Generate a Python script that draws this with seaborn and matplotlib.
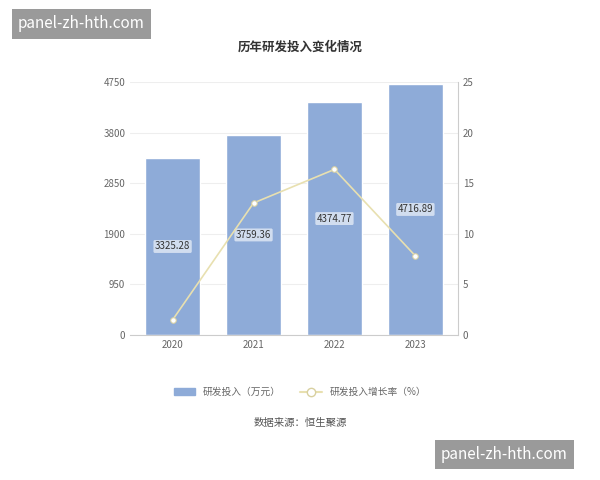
import numpy as np
import pandas as pd
import matplotlib.pyplot as plt
import seaborn as sns

years = ['2020', '2021', '2022', '2023']
rd_spend = [3325.28, 3759.36, 4374.77, 4716.89]
growth = [1.5, 13.05, 16.37, 7.82]

sns.set_style('white')
plt.rcParams['font.family'] = ['Noto Sans CJK SC', 'DejaVu Sans']

df = pd.DataFrame({'year': years, 'spend': rd_spend, 'growth': growth})

fig = plt.figure(figsize=(6, 4.8), dpi=100)
ax = fig.add_axes([0.217, 0.302, 0.546, 0.527])
sns.barplot(data=df, x='year', y='spend', color='#8eabd8', width=0.68, ax=ax, saturation=1)
ax.set_ylim(0, 4750)
ax.set_yticks(np.arange(0, 4751, 950))
ax.yaxis.grid(True, color='#eeeeee', lw=0.8)
ax.set_axisbelow(True)
ax.set_xlabel('')
ax.set_ylabel('')
ax.tick_params(labelsize=7, colors='#666666', length=0)
for s in ['top', 'right', 'left']:
    ax.spines[s].set_visible(False)
ax.spines['bottom'].set_color('#cccccc')
for i, v in enumerate(rd_spend):
    ax.text(i, v / 2, f'{v:.2f}', ha='center', va='center', fontsize=7, color='#333333',
            bbox=dict(boxstyle='round,pad=0.15', fc='white', ec='none', alpha=0.6))

ax2 = ax.twinx()
sns.lineplot(x=np.arange(len(years)), y=growth, color='#e8e0b0', marker='o', markersize=4,
             markerfacecolor='white', markeredgecolor='#d8d0a0', lw=1.2, ax=ax2)
ax2.set_ylim(0, 25)
ax2.set_yticks(range(0, 26, 5))
ax2.tick_params(labelsize=7, colors='#666666', length=0)
for s in ['top', 'left', 'bottom']:
    ax2.spines[s].set_visible(False)
ax2.spines['right'].set_color('#cccccc')

fig.text(0.5, 0.895, '历年研发投入变化情况', ha='center', fontsize=9, weight='bold', color='#333333')

from matplotlib.patches import Patch
from matplotlib.lines import Line2D
handles = [Patch(color='#8eabd8', label='研发投入（万元）'),
           Line2D([0], [0], color='#e8e0b0', marker='o', markerfacecolor='white',
                  markeredgecolor='#d8d0a0', label='研发投入增长率（%）')]
fig.legend(handles=handles, loc='center', bbox_to_anchor=(0.5, 0.183), ncol=2, frameon=False,
           fontsize=7, labelcolor='#666666', handlelength=2.2)
fig.text(0.5, 0.112, '数据来源：恒生聚源', ha='center', fontsize=7.5, color='#555555')

fig.text(0.03, 0.95, 'panel-zh-hth.com', fontsize=11, color='white', va='center',
         bbox=dict(boxstyle='square,pad=0.4', fc='#9a9a9a', ec='none'))
fig.text(0.735, 0.053, 'panel-zh-hth.com', fontsize=11, color='white', va='center',
         bbox=dict(boxstyle='square,pad=0.4', fc='#9a9a9a', ec='none'))

fig.savefig('out.png', dpi=100)
